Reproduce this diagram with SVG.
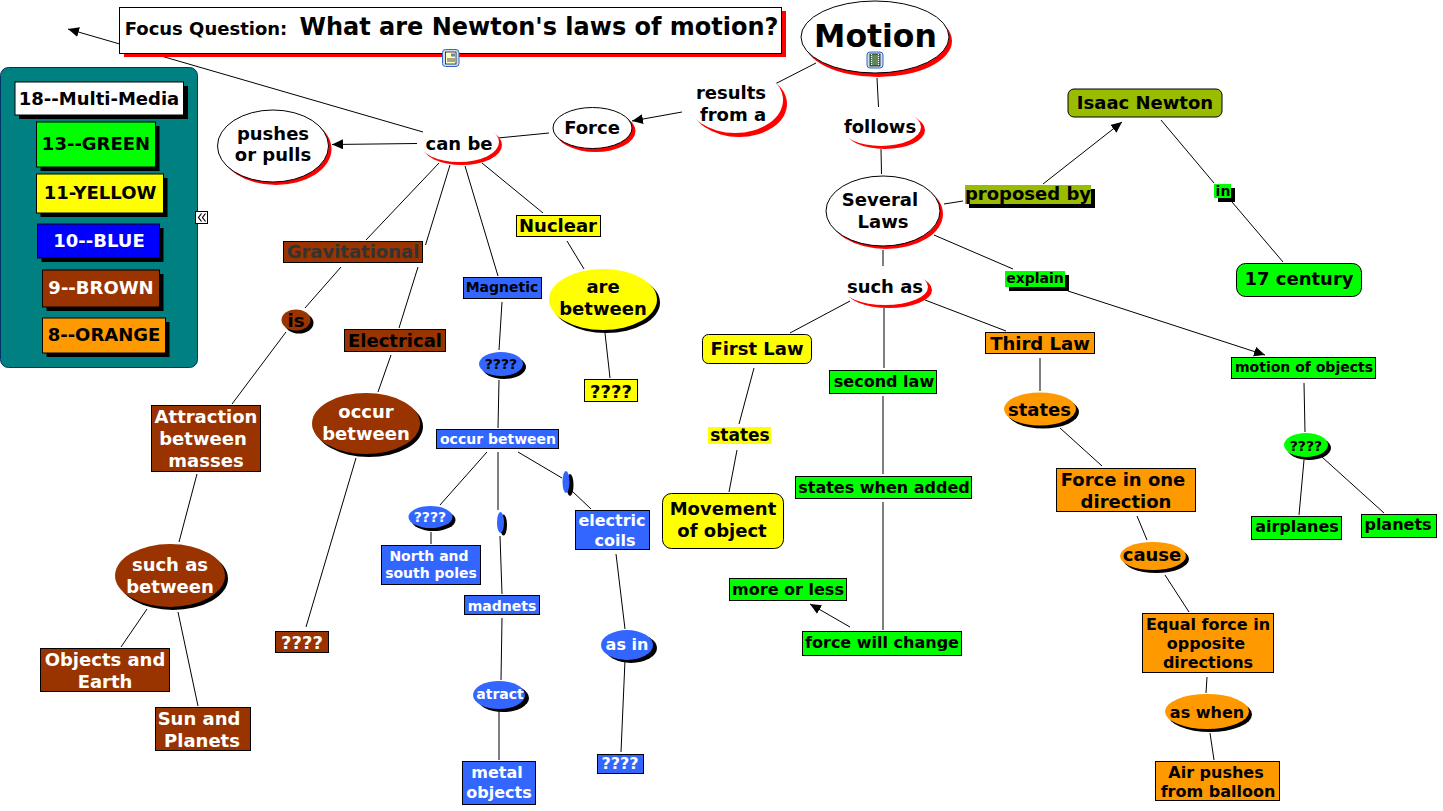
<svg xmlns="http://www.w3.org/2000/svg" width="1443" height="811" viewBox="0 0 1443 811">
<style>
text{font-family:"DejaVu Sans","Verdana",sans-serif;font-weight:bold;text-anchor:middle;fill:#000}
.w{fill:#fff}.dk{fill:#333}
.s{stroke:#000;stroke-width:1}
.sb{fill:#000}.sr{fill:#f00}
.W{fill:#fff}.G{fill:#0f0}.Y{fill:#ff0}.B{fill:#36f}.P{fill:#00f}.N{fill:#930}.O{fill:#f90}.L{fill:#9b0}
.f18{font-size:18px}.f17{font-size:17px}.f16{font-size:16px}.f14{font-size:14px}
#c line{stroke:#000;stroke-width:1;fill:none}
</style>
<defs>
<marker id="a" markerUnits="userSpaceOnUse" markerWidth="13" markerHeight="11" refX="11" refY="5" orient="auto"><path d="M0 0L11 5L0 10Z" fill="#000"/></marker>
</defs>
<g id="c">
<line x1="423" y1="132" x2="68" y2="29" marker-end="url(#a)"/>
<line x1="417" y1="143.500" x2="332" y2="144.500" marker-end="url(#a)"/>
<line x1="549" y1="133" x2="498" y2="138"/>
<line x1="816" y1="63" x2="775" y2="84"/>
<line x1="682" y1="112" x2="632" y2="121" marker-end="url(#a)"/>
<line x1="877" y1="78" x2="878.500" y2="107"/>
<line x1="881" y1="149" x2="881.500" y2="174"/>
<line x1="944" y1="204" x2="963" y2="201"/>
<line x1="1043" y1="184" x2="1122" y2="122" marker-end="url(#a)"/>
<line x1="1161" y1="120" x2="1214" y2="183"/>
<line x1="1232" y1="202" x2="1283" y2="262"/>
<line x1="934" y1="235" x2="1013" y2="269"/>
<line x1="1068" y1="291" x2="1265" y2="355" marker-end="url(#a)"/>
<line x1="1304" y1="383" x2="1305" y2="432"/>
<line x1="1304" y1="460" x2="1299" y2="515"/>
<line x1="1322" y1="457" x2="1384" y2="513"/>
<line x1="883" y1="250" x2="883" y2="266"/>
<line x1="850" y1="301" x2="790" y2="333"/>
<line x1="884" y1="308" x2="884" y2="368"/>
<line x1="925" y1="300" x2="1006" y2="331"/>
<line x1="754" y1="368" x2="739" y2="424"/>
<line x1="737" y1="450" x2="729" y2="492"/>
<line x1="883" y1="396" x2="883" y2="474"/>
<line x1="883" y1="502" x2="883" y2="630"/>
<line x1="850" y1="627" x2="810" y2="604" marker-end="url(#a)"/>
<line x1="1040" y1="358" x2="1040" y2="391"/>
<line x1="1060" y1="428" x2="1102" y2="466"/>
<line x1="1137" y1="516" x2="1147" y2="540"/>
<line x1="1165" y1="575" x2="1189" y2="612"/>
<line x1="1207" y1="677" x2="1206" y2="693"/>
<line x1="1210" y1="733" x2="1214" y2="760"/>
<line x1="439" y1="163" x2="366" y2="240"/>
<line x1="341" y1="267" x2="305" y2="308"/>
<line x1="286" y1="332" x2="232" y2="404"/>
<line x1="197" y1="474" x2="179" y2="542"/>
<line x1="147" y1="609" x2="121" y2="647"/>
<line x1="178" y1="612" x2="198" y2="706"/>
<line x1="450" y1="165" x2="425.500" y2="245"/>
<line x1="418" y1="267" x2="399" y2="328"/>
<line x1="391" y1="355" x2="378" y2="392"/>
<line x1="356" y1="458" x2="306" y2="627"/>
<line x1="465" y1="166" x2="498" y2="276"/>
<line x1="502" y1="302" x2="499" y2="350"/>
<line x1="499" y1="380" x2="498" y2="428"/>
<line x1="487" y1="452" x2="440" y2="505"/>
<line x1="431" y1="532" x2="431" y2="544"/>
<line x1="498" y1="452" x2="498" y2="510"/>
<line x1="500" y1="536" x2="502" y2="594"/>
<line x1="502" y1="618" x2="501" y2="680"/>
<line x1="499" y1="710" x2="499" y2="760"/>
<line x1="518" y1="452" x2="562" y2="478"/>
<line x1="572" y1="491" x2="591" y2="509"/>
<line x1="616" y1="554" x2="625" y2="629"/>
<line x1="625" y1="660" x2="621" y2="752"/>
<line x1="482" y1="163" x2="543" y2="213"/>
<line x1="567" y1="241" x2="584" y2="269"/>
<line x1="605" y1="333" x2="610" y2="378"/>
</g>
<g id="focus"><rect class="sr" x="124" y="11" width="662" height="46"/><rect class="W s" x="119.500" y="7.500" width="662" height="46"/><text class="f18" x="206" y="35">Focus Question:</text><text x="539" y="35" font-size="24">What are Newton's laws of motion?</text></g>
<g id="focus-icon"><rect x="442.500" y="49.500" width="16.500" height="17" rx="3" fill="#cde" stroke="#36c"/><rect x="445.500" y="52" width="10.500" height="12" fill="#ffc" stroke="#000" stroke-width=".7"/><path d="M447 59h8M447 61h8" stroke="#000" stroke-width=".7"/><rect x="451" y="53.500" width="4" height="3" fill="#68a"/></g>
<g id="motion"><ellipse class="sr" cx="878" cy="41" rx="74" ry="36"/><ellipse class="W s" cx="875" cy="37" rx="74" ry="36"/><text x="875.500" y="47" font-size="31.500">Motion</text></g>
<g id="motion-icon"><rect x="867" y="52" width="16" height="16" rx="3" fill="#cde" stroke="#36c"/><rect x="870" y="54" width="10" height="12" fill="#5a8a5a" stroke="#000" stroke-width=".7"/><path d="M871.500 54v12M878.500 54v12" stroke="#fff" stroke-width="1.200" stroke-dasharray="1 1"/></g>
<g id="legend"><rect x=".5" y="67.500" width="197" height="300" rx="8" fill="#008080" stroke="#036" stroke-width="1"/></g>
<g id="legend-collapse"><rect x="195.500" y="211.500" width="12" height="12" fill="#fff" stroke="#000"/><path d="M201.500 213.500l-3 4 3 4M205.500 213.500l-3 4 3 4" fill="none" stroke="#000" stroke-width="1.200"/></g>
<g id="l18"><rect class="sb" x="19" y="86" width="169" height="33"/><rect class="W s" x="15" y="82" width="168.500" height="33"/><text class="f18" x="99" y="105">18--Multi-Media</text></g>
<g id="l13"><rect class="sb" x="40.500" y="126" width="119" height="45"/><rect class="G s" x="36.500" y="122" width="119" height="45"/><text class="f18" x="96" y="150">13--GREEN</text></g>
<g id="l11"><rect class="sb" x="40.500" y="178" width="127" height="39"/><rect class="Y s" x="36.500" y="174" width="127" height="39"/><text class="f18" x="100" y="199">11-YELLOW</text></g>
<g id="l10"><rect class="sb" x="41.500" y="228" width="122" height="34"/><rect class="P s" x="37.500" y="224" width="122" height="34"/><text class="f18 w" x="99" y="247">10--BLUE</text></g>
<g id="l9"><rect class="sb" x="46.500" y="274" width="117" height="37"/><rect class="N s" x="42.500" y="270" width="117" height="37"/><text class="f18 w" x="101" y="294">9--BROWN</text></g>
<g id="l8"><rect class="sb" x="46.500" y="322" width="123" height="35"/><rect class="O s" x="42.500" y="318" width="123" height="35"/><text class="f18" x="104" y="341">8--ORANGE</text></g>
<g id="results"><ellipse class="sr" cx="739" cy="104" rx="48" ry="33"/><ellipse class="W" cx="735" cy="100" rx="48" ry="33"/><text class="f18" x="731" y="99">results</text><text class="f18" x="733" y="121">from a</text></g>
<g id="follows"><ellipse class="sr" cx="885" cy="130" rx="40" ry="19"/><ellipse class="W" cx="881" cy="127" rx="40" ry="19"/><text class="f18" x="880" y="133">follows</text></g>
<g id="force"><ellipse class="sr" cx="595.500" cy="131" rx="40" ry="21"/><ellipse class="W s" cx="592.500" cy="128" rx="39.500" ry="20.500"/><text class="f18" x="592" y="134">Force</text></g>
<g id="canbe"><ellipse class="sr" cx="462" cy="145" rx="40" ry="20"/><ellipse class="W" cx="459" cy="142" rx="40" ry="20"/><text class="f18" x="459" y="150">can be</text></g>
<g id="pushes"><ellipse class="sr" cx="276" cy="149" rx="55.500" ry="36"/><ellipse class="W s" cx="273" cy="146" rx="55.500" ry="36"/><text class="f18" x="273" y="140">pushes</text><text class="f18" x="273" y="161">or pulls</text></g>
<g id="laws"><ellipse class="sr" cx="886" cy="214" rx="57" ry="35"/><ellipse class="W s" cx="883" cy="211" rx="57" ry="35"/><text class="f18" x="880" y="206">Several</text><text class="f18" x="883" y="228">Laws</text></g>
<g id="suchas"><ellipse class="sr" cx="889" cy="290" rx="43" ry="18"/><ellipse class="W" cx="885" cy="287" rx="43" ry="18"/><text class="f18" x="885" y="293">such as</text></g>
<g id="isaac"><rect class="L s" x="1068" y="89" width="154" height="28" rx="6"/><text class="f18" x="1145" y="109">Isaac Newton</text></g>
<g id="proposed"><rect class="sb" x="969" y="189" width="126" height="19"/><rect class="L" x="965" y="185" width="126" height="19"/><text class="f18" x="1028" y="200">proposed by</text></g>
<g id="in"><rect class="sb" x="1218" y="188" width="17" height="14"/><rect class="G" x="1214" y="184" width="17" height="14"/><text class="f14" x="1223" y="196">in</text></g>
<g id="explain"><rect class="sb" x="1009" y="275" width="60" height="16"/><rect class="G" x="1005" y="271" width="60" height="16"/><text class="f14" x="1035" y="283">explain</text></g>
<g id="century"><rect class="G s" x="1236.500" y="263.500" width="125" height="33" rx="9"/><text class="f18" x="1299" y="285">17 century</text></g>
<g id="objects"><rect class="G s" x="1231.500" y="357.500" width="144" height="21"/><text class="f14" x="1304" y="372">motion of objects</text></g>
<g id="gq"><ellipse class="sb" cx="1309" cy="448" rx="22" ry="12"/><ellipse class="G" cx="1306" cy="445" rx="22" ry="12"/><text class="f14" x="1306" y="451">????</text></g>
<g id="airplanes"><rect class="G s" x="1251.500" y="516.500" width="90" height="23"/><text class="f16" x="1297" y="532">airplanes</text></g>
<g id="planets"><rect class="G s" x="1361.500" y="514.500" width="75" height="23"/><text class="f16" x="1398" y="530">planets</text></g>
<g id="first"><rect class="Y s" x="702.500" y="334.500" width="109" height="29" rx="6"/><text class="f18" x="757" y="355">First Law</text></g>
<g id="ystates"><rect class="Y" x="708" y="427" width="63" height="17"/><text class="f17" x="740" y="441">states</text></g>
<g id="movement"><rect class="Y s" x="662.500" y="493.500" width="121" height="55" rx="9"/><text class="f18" x="723" y="515">Movement</text><text class="f18" x="722" y="537">of object</text></g>
<g id="second"><rect class="G s" x="829.500" y="370.500" width="107" height="23"/><text class="f16" x="884" y="387">second law</text></g>
<g id="added"><rect class="G s" x="795.500" y="476.500" width="176" height="22"/><text class="f16" x="884" y="493">states when added</text></g>
<g id="moreless"><rect class="G s" x="729.500" y="578.500" width="117" height="22"/><text class="f16" x="788" y="595">more or less</text></g>
<g id="willchange"><rect class="G s" x="802.500" y="631.500" width="159" height="24"/><text class="f16" x="882" y="648">force will change</text></g>
<g id="third"><rect class="O s" x="985.500" y="332.500" width="109" height="21"/><text class="f18" x="1040" y="350">Third Law</text></g>
<g id="ostates"><ellipse class="sb" cx="1043" cy="412" rx="36" ry="16.500"/><ellipse class="O" cx="1040" cy="409" rx="36" ry="16.500"/><text class="f18" x="1039.500" y="415.500">states</text></g>
<g id="oneway"><rect class="O s" x="1056.500" y="468.500" width="139" height="43"/><text class="f18" x="1123" y="486">Force in one</text><text class="f18" x="1126" y="508">direction</text></g>
<g id="cause"><ellipse class="sb" cx="1156" cy="559" rx="33" ry="14"/><ellipse class="O" cx="1153" cy="556" rx="33" ry="14"/><text class="f18" x="1152" y="561">cause</text></g>
<g id="equal"><rect class="O s" x="1142.500" y="613.500" width="131" height="59"/><text class="f16" x="1208" y="630">Equal force in</text><text class="f16" x="1206" y="649">opposite</text><text class="f16" x="1208" y="668">directions</text></g>
<g id="aswhen"><ellipse class="sb" cx="1210" cy="714.500" rx="42" ry="17.500"/><ellipse class="O" cx="1207" cy="711.500" rx="42" ry="17.500"/><text class="f16" x="1207" y="718">as when</text></g>
<g id="air"><rect class="O s" x="1155.500" y="761.500" width="124" height="39"/><text class="f16" x="1216" y="778">Air pushes</text><text class="f16" x="1218" y="797">from balloon</text></g>
<g id="nuclear"><rect class="Y s" x="516.500" y="215.500" width="84" height="21"/><text class="f18" x="558" y="232">Nuclear</text></g>
<g id="between"><ellipse class="sb" cx="606" cy="302.500" rx="54" ry="30.500"/><ellipse class="Y" cx="603" cy="299.500" rx="54" ry="30.500"/><text class="f18" x="603" y="293">are</text><text class="f18" x="603" y="315">between</text></g>
<g id="yq"><rect class="Y s" x="584.500" y="379.500" width="53" height="22"/><text class="f18" x="611" y="398">????</text></g>
<g id="grav"><rect class="N s" x="283.500" y="241.500" width="139" height="21"/><text class="f18 dk" x="353" y="258">Gravitational</text></g>
<g id="is"><ellipse class="sb" cx="299" cy="323" rx="14.500" ry="10.500"/><ellipse class="N" cx="296" cy="320" rx="14.500" ry="10.500"/><text class="f18" x="296" y="327">is</text></g>
<g id="electrical"><rect class="N s" x="344.500" y="329.500" width="101" height="22"/><text class="f18" x="395" y="347">Electrical</text></g>
<g id="occur1"><ellipse class="sb" cx="369" cy="426.500" rx="54" ry="30.500"/><ellipse class="N" cx="366" cy="423.500" rx="54" ry="30.500"/><text class="f18 w" x="366" y="418">occur</text><text class="f18 w" x="366" y="440">between</text></g>
<g id="attraction"><rect class="N s" x="151.500" y="405.500" width="109" height="66"/><text class="f18 w" x="206" y="423">Attraction</text><text class="f18 w" x="203" y="445">between</text><text class="f18 w" x="206" y="467">masses</text></g>
<g id="suchb"><ellipse class="sb" cx="173" cy="578.500" rx="55" ry="31.500"/><ellipse class="N" cx="170" cy="575.500" rx="55" ry="31.500"/><text class="f18 w" x="170" y="571">such as</text><text class="f18 w" x="170" y="593">between</text></g>
<g id="earth"><rect class="N s" x="40.500" y="648.500" width="129" height="43"/><text class="f18 w" x="105" y="666">Objects and</text><text class="f18 w" x="105" y="688">Earth</text></g>
<g id="sun"><rect class="N s" x="155.500" y="707.500" width="95" height="43"/><text class="f18 w" x="199" y="725">Sun and</text><text class="f18 w" x="202" y="747">Planets</text></g>
<g id="bq"><rect class="N s" x="275.500" y="631.500" width="53" height="21"/><text class="f18 w" x="302" y="649">????</text></g>
<g id="magnetic"><rect class="B s" x="463.500" y="277.500" width="78" height="21"/><text class="f14" x="502" y="292">Magnetic</text></g>
<g id="mq"><ellipse class="sb" cx="504" cy="367" rx="22" ry="12"/><ellipse class="B" cx="501" cy="364" rx="22" ry="12"/><text class="f14" x="501" y="369">????</text></g>
<g id="occur2"><rect class="B s" x="436.500" y="429.500" width="122" height="19"/><text class="f14 w" x="498" y="444">occur between</text></g>
<g id="nq"><ellipse class="sb" cx="433.500" cy="520" rx="22" ry="11"/><ellipse class="B" cx="430.500" cy="517" rx="22" ry="11"/><text class="f14 w" x="430" y="522">????</text></g>
<g id="poles"><rect class="B s" x="381.500" y="545.500" width="99" height="39"/><text class="f14 w" x="429" y="561">North and</text><text class="f14 w" x="431" y="578">south poles</text></g>
<g id="dot1"><ellipse class="sb" cx="503.500" cy="525" rx="3.500" ry="10.500"/><ellipse class="B" cx="500.500" cy="522.500" rx="3.500" ry="10.500"/></g>
<g id="madnets"><rect class="B s" x="464.500" y="595.500" width="75" height="19"/><text class="f14 w" x="502" y="611">madnets</text></g>
<g id="atract"><ellipse class="sb" cx="503" cy="698" rx="26" ry="14"/><ellipse class="B" cx="499" cy="695" rx="26" ry="14"/><text class="f14 w" x="500" y="699">atract</text></g>
<g id="metal"><rect class="B s" x="462.500" y="761.500" width="73" height="43"/><text class="f16 w" x="497" y="778">metal</text><text class="f16 w" x="499" y="798">objects</text></g>
<g id="dot2"><ellipse class="sb" cx="570" cy="485" rx="3.500" ry="11"/><ellipse class="B" cx="566" cy="482" rx="3.500" ry="11"/></g>
<g id="coils"><rect class="B s" x="575.500" y="510.500" width="74" height="39"/><text class="f16 w" x="612" y="526">electric</text><text class="f16 w" x="615" y="546">coils</text></g>
<g id="asin"><ellipse class="sb" cx="631" cy="648" rx="26" ry="15"/><ellipse class="B" cx="627" cy="645" rx="26" ry="15"/><text class="f16 w" x="627" y="650">as in</text></g>
<g id="cq"><rect class="B s" x="597.500" y="754.500" width="46" height="19"/><text class="f16 w" x="620" y="769">????</text></g>
</svg>
